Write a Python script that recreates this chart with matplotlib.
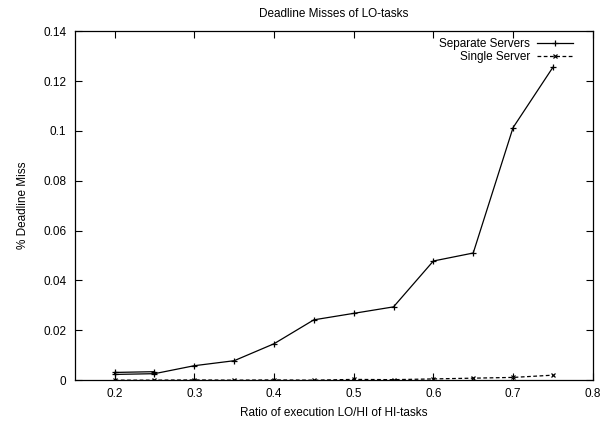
import matplotlib
matplotlib.use('Agg')
import matplotlib.pyplot as plt

# ratio of execution LO/HI, deadline miss fraction
sep_x = [0.25, 0.2, 0.2, 0.25, 0.3, 0.35, 0.4, 0.45, 0.5, 0.55, 0.6, 0.65, 0.7, 0.75]
sep_y = [0.0034, 0.0031, 0.0023, 0.0026, 0.0058, 0.0078, 0.0146, 0.0242, 0.0268, 0.0294,
         0.0478, 0.0510, 0.1013, 0.1255]

single_x = [0.2, 0.25, 0.3, 0.35, 0.4, 0.45, 0.5, 0.55, 0.6, 0.65, 0.7, 0.75]
single_y = [0.0, 0.0, 0.0001, 0.0, 0.0001, 0.0, 0.0003, 0.0002, 0.0005, 0.0008, 0.0011, 0.002]

xticks = [0.2, 0.3, 0.4, 0.5, 0.6, 0.7, 0.8]
yticks = [0, 0.02, 0.04, 0.06, 0.08, 0.1, 0.12, 0.14]
ytick_labels = ['0', '0.02', '0.04', '0.06', '0.08', '0.1', '0.12', '0.14']

plt.rcParams['font.family'] = ['Liberation Sans', 'DejaVu Sans']
plt.rcParams['font.size'] = 8.5

fig = plt.figure(figsize=(6.03, 4.21), dpi=100)
ax = fig.add_axes([0.124, 0.097, 0.859, 0.829])

ax.plot(sep_x, sep_y, color='black', lw=0.9, marker='+', ms=5, mew=0.9,
        label='Separate Servers')
ax.plot(single_x, single_y, color='black', lw=0.9, ls=(0, (3, 2)), marker='x', ms=3.5,
        mew=0.9, label='Single Server')

ax.set_xlim(0.15, 0.8)
ax.set_ylim(0, 0.14)
ax.set_xticks(xticks)
ax.set_xticklabels([str(v) for v in xticks])
ax.set_yticks(yticks)
ax.set_yticklabels(ytick_labels)
ax.tick_params(direction='in', top=True, right=True, length=5, width=0.8, pad=6)
for s in ax.spines.values():
    s.set_linewidth(0.9)

ax.set_xlabel('Ratio of execution LO/HI of HI-tasks', labelpad=5)
ax.set_ylabel('% Deadline Miss', labelpad=10)
ax.set_title('Deadline Misses of LO-tasks', fontsize=8.5, pad=10)

ax.legend(loc='upper right', bbox_to_anchor=(0.975, 1.0), frameon=False,
          markerfirst=False, handlelength=3, borderaxespad=0.2, labelspacing=0.05,
          handletextpad=0.6, numpoints=1)

fig.savefig('out.png', dpi=100)
